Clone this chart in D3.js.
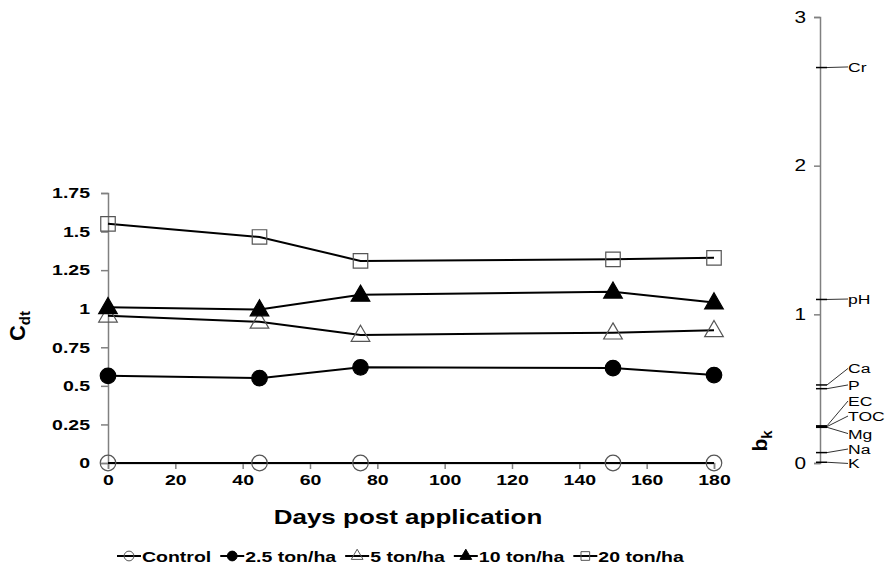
<!DOCTYPE html>
<html>
<head>
<meta charset="utf-8">
<script src="https://cdn.jsdelivr.net/npm/d3@7"></script>
<style>
  body { margin: 0; background: #fff; }
  svg { font-family: "Liberation Sans", Arial, sans-serif; }
</style>
</head>
<body>
<svg id="chart" width="887" height="567"></svg>
<script>
// data
const days = [0, 45, 75, 150, 180];
const control = [0, 0, 0, 0, 0];
const ton2_5 = [0.565, 0.55, 0.62, 0.615, 0.57];
const ton5 = [0.955, 0.915, 0.83, 0.845, 0.86];
const ton10 = [1.01, 0.995, 1.09, 1.11, 1.04];
const ton20 = [1.55, 1.465, 1.31, 1.32, 1.33];
const xTicks = [0, 20, 40, 60, 80, 100, 120, 140, 160, 180];
const yTicks = [0, 0.25, 0.5, 0.75, 1, 1.25, 1.5, 1.75];

const bkNames = ["Cr", "pH", "Ca", "P", "EC", "TOC", "Mg", "Na", "K"];
const bkValues = [2.66, 1.10, 0.525, 0.50, 0.25, 0.245, 0.24, 0.07, 0.005];
const bkLabelValues = [2.664, 1.103, 0.636, 0.525, 0.417, 0.316, 0.198, 0.094, -0.003];
const bkTicks = [0, 1, 2, 3];

// open markers are hollow, the line shows through them
const series = [
  { name: "Control", values: control, shape: "circle", filled: false },
  { name: "2.5 ton/ha", values: ton2_5, shape: "circle", filled: true },
  { name: "5 ton/ha", values: ton5, shape: "triangle", filled: false },
  { name: "10 ton/ha", values: ton10, shape: "triangle", filled: true },
  { name: "20 ton/ha", values: ton20, shape: "square", filled: false }
];

const svg = d3.select("#chart");
const axisColor = "#808080";
const SX = 1.3; // the original figure is stretched sideways

const x = d3.scaleLinear().domain([0, 180]).range([108, 714]);
const y = d3.scaleLinear().domain([0, 1.75]).range([463, 193]);
const yb = d3.scaleLinear().domain([0, 3]).range([463, 17]);

function symbolFor(shape, size) {
  const t = shape === "circle" ? d3.symbolCircle : shape === "triangle" ? d3.symbolTriangle : d3.symbolSquare;
  return d3.symbol().type(t).size(size)();
}

// stretch axis tick labels around their anchor
function stretchTicks(g) {
  g.selectAll(".tick text").each(function () {
    const t = d3.select(this);
    const tx = +t.attr("x") || 0;
    t.attr("x", tx / SX).attr("transform", `scale(${SX},1)`);
  });
}

// left axis
const gy = svg.append("g").attr("transform", "translate(108,0)")
  .call(d3.axisLeft(y).tickValues(yTicks).tickSize(7).tickPadding(11)
    .tickFormat(d => d3.format("")(d)));
gy.selectAll("text").attr("font-size", 15).attr("font-weight", "bold").attr("fill", "#000");
stretchTicks(gy);

// bottom axis
const gx = svg.append("g").attr("transform", "translate(0,463)")
  .call(d3.axisBottom(x).tickValues(xTicks).tickSize(6).tickPadding(5));
gx.selectAll("text").attr("font-size", 15).attr("font-weight", "bold").attr("fill", "#000");
stretchTicks(gx);

[gy, gx].forEach(g => {
  g.select(".domain").attr("stroke", axisColor).attr("stroke-width", 1.5);
  g.selectAll(".tick line").attr("stroke", axisColor).attr("stroke-width", 1.5);
});

// axis titles
svg.append("text").attr("transform", `translate(408,524) scale(${SX},1)`).attr("text-anchor", "middle")
  .attr("font-size", 20).attr("font-weight", "bold").text("Days post application");

const cdt = svg.append("text").attr("transform", "translate(25,326) rotate(-90)")
  .attr("text-anchor", "middle").attr("font-size", 22).attr("font-weight", "bold");
cdt.append("tspan").text("C");
cdt.append("tspan").attr("font-size", 15).attr("dy", 5).text("dt");

// lines and markers
const line = d3.line().x((d, i) => x(days[i])).y(d => y(d));
series.forEach(s => {
  svg.append("path").datum(s.values).attr("d", line)
    .attr("fill", "none").attr("stroke", "#000").attr("stroke-width", 2);
  const size = s.shape === "square" ? 210 : s.shape === "triangle" ? 150 : 190;
  svg.append("g").selectAll("path").data(s.values).join("path")
    .attr("transform", (d, i) => `translate(${x(days[i])},${y(d) + (s.shape === "triangle" ? 1 : 0)})`)
    .attr("d", symbolFor(s.shape, size))
    .attr("fill", s.filled ? "#000" : "none")
    .attr("stroke", s.filled ? "#000" : "#555")
    .attr("stroke-width", 1.2);
});

// right b_k axis
const gb = svg.append("g").attr("transform", "translate(820,0)")
  .call(d3.axisLeft(yb).tickValues(bkTicks).tickSize(6).tickPadding(8).tickFormat(d3.format("d")));
gb.select(".domain").attr("stroke", axisColor).attr("stroke-width", 1.5);
gb.selectAll(".tick line").attr("stroke", axisColor).attr("stroke-width", 1.5);
gb.selectAll("text").attr("font-size", 16).attr("fill", "#000");
stretchTicks(gb);

svg.append("g").selectAll("line").data(bkValues).join("line")
  .attr("x1", 816).attr("x2", 827)
  .attr("y1", d => yb(d)).attr("y2", d => yb(d))
  .attr("stroke", "#000").attr("stroke-width", 1.5);

svg.append("g").selectAll("line").data(bkValues).join("line")
  .attr("x1", 827).attr("x2", 848)
  .attr("y1", d => yb(d)).attr("y2", (d, i) => yb(bkLabelValues[i]))
  .attr("stroke", "#333").attr("stroke-width", 1);

svg.append("g").selectAll("text").data(bkNames).join("text")
  .attr("transform", (d, i) => `translate(848,${yb(bkLabelValues[i]) + 5}) scale(${SX},1)`)
  .attr("font-size", 13.5).attr("fill", "#000").text(d => d);

const bk = svg.append("text").attr("transform", "translate(767,441) rotate(-90)")
  .attr("text-anchor", "middle").attr("font-size", 21).attr("font-weight", "bold");
bk.append("tspan").text("b");
bk.append("tspan").attr("font-size", 15).attr("dy", 5).text("k");

// legend
const lg = svg.append("g").attr("transform", "translate(0,556)");
let lx = 117;
series.forEach(s => {
  const g = lg.append("g").attr("transform", `translate(${lx},0)`);
  g.append("line").attr("x1", 0).attr("x2", 24).attr("y1", 0).attr("y2", 0)
    .attr("stroke", "#000").attr("stroke-width", 2);
  g.append("path").attr("transform", "translate(12,0)")
    .attr("d", symbolFor(s.shape, s.shape === "triangle" ? 60 : 75))
    .attr("fill", s.filled ? "#000" : "none")
    .attr("stroke", s.filled ? "#000" : "#555").attr("stroke-width", 1);
  const t = g.append("text").attr("transform", `translate(25,6) scale(${SX},1)`)
    .attr("font-size", 15).attr("font-weight", "bold").text(s.name);
  lx += 25 + t.node().getComputedTextLength() * SX + 9;
});
</script>
</body>
</html>
